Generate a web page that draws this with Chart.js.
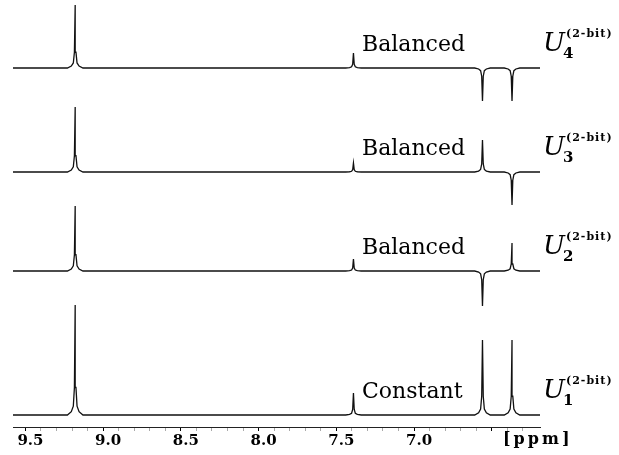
<!DOCTYPE html>
<html>
<head>
<meta charset="utf-8">
<script src="https://cdn.jsdelivr.net/npm/chart.js@4.4.1/dist/chart.umd.min.js"></script>
<style>
  html, body { margin: 0; padding: 0; background: #fff; }
  #wrap { width: 619px; height: 455px; position: relative; }
</style>
</head>
<body>
<div id="wrap"><canvas id="c" width="619" height="455"></canvas></div>
<script>
// ---- data ----
const peakPpm   = [9.18, 7.39, 6.56, 6.37];          // peak positions [ppm]
const u4Heights = [63, 15, -33, -33];                 // U4 (Balanced)
const u3Heights = [65, 9, 32, -33];                   // U3 (Balanced)
const u2Heights = [65, 12, -35, 28];                  // U2 (Balanced)
const u1Heights = [110, 22, 75, 75];                  // U1 (Constant)
const baselines = [359, 255, 156, 12];                // vertical stacking offsets (U4, U3, U2, U1)
const traceRange = [9.58, 6.19];                      // spectral window [ppm]
const peakProfile = [[-0.05,0],[-0.025,0.03],[-0.012,0.08],[-0.005,0.25],[0,1],[0.005,0.25],[0.012,0.08],[0.025,0.03],[0.05,0]];
const tickLabels = ['9.5','9.0','8.5','8.0','7.5','7.0'];
const traceNames = ['U4','U3','U2','U1'];
const traceTags  = ['Balanced','Balanced','Balanced','Constant'];

function buildTrace(heights, base) {
  const pts = [{x: traceRange[1], y: base}];
  const order = peakPpm.map((p, i) => i).sort((a, b) => peakPpm[a] - peakPpm[b]);
  order.forEach(i => {
    peakProfile.forEach(([dx, f]) => pts.push({x: peakPpm[i] + dx, y: base + f * heights[i]}));
  });
  pts.push({x: traceRange[0], y: base});
  return pts;
}

const allHeights = [u4Heights, u3Heights, u2Heights, u1Heights];
const datasets = allHeights.map((h, k) => ({
  label: traceNames[k],
  data: buildTrace(h, baselines[k]),
  borderColor: '#111',
  borderWidth: 1.3,
  pointRadius: 0,
  tension: 0,
  fill: false
}));

const tickValues = [];
for (let v = 95; v >= 63; v--) tickValues.push(v / 10);

const textPlugin = {
  id: 'texts',
  afterDraw(chart) {
    const ctx = chart.ctx;
    const y = chart.scales.y;
    ctx.save();
    ctx.fillStyle = '#000';
    ctx.textBaseline = 'alphabetic';
    traceTags.forEach((t, k) => {
      const by = y.getPixelForValue(baselines[k]);
      ctx.font = '22px "DejaVu Serif"';
      ctx.textAlign = 'left';
      ctx.fillText(t, 362, by - 17);
      ctx.font = 'italic 26px "DejaVu Serif"';
      ctx.fillText('U', 543, by - 17);
      ctx.font = 'bold 11px "DejaVu Serif"';
      ctx.letterSpacing = '1px';
      ctx.fillText('(2-bit)', 566, by - 31);
      ctx.letterSpacing = '0px';
      ctx.font = 'bold 15px "DejaVu Serif"';
      ctx.fillText(String(4 - k), 563, by - 10);
    });
    ctx.font = 'bold 16px "DejaVu Serif"';
    ctx.letterSpacing = '3px';
    ctx.fillText('[ppm]', 503, 444);
    ctx.restore();
  }
};

new Chart(document.getElementById('c'), {
  type: 'line',
  data: { datasets },
  options: {
    responsive: false,
    animation: false,
    events: [],
    layout: { padding: { left: 13, right: 79, top: 0, bottom: 0 } },
    plugins: { legend: { display: false }, tooltip: { enabled: false } },
    scales: {
      x: {
        type: 'linear',
        reverse: true,
        min: traceRange[1],
        max: traceRange[0],
        afterBuildTicks: s => { s.ticks = tickValues.map(v => ({ value: v })); },
        afterFit: s => { s.height = 28; },
        border: { display: true, color: '#222', width: 1 },
        grid: {
          drawOnChartArea: false,
          drawTicks: true,
          tickLength: 4,
          tickColor: c => (Math.round(c.tick.value * 10) % 5 === 0 ? '#000' : '#aaa')
        },
        ticks: {
          autoSkip: false,
          maxRotation: 0,
          padding: 1,
          labelOffset: 5,
          color: '#000',
          font: { family: 'DejaVu Serif', weight: 'bold', size: 15 },
          callback: v => {
            const s = (Math.round(v * 10) / 10).toFixed(1);
            return tickLabels.includes(s) ? s : '';
          }
        }
      },
      y: { display: false, min: 0, max: 427 }
    }
  },
  plugins: [textPlugin]
});
</script>
</body>
</html>
